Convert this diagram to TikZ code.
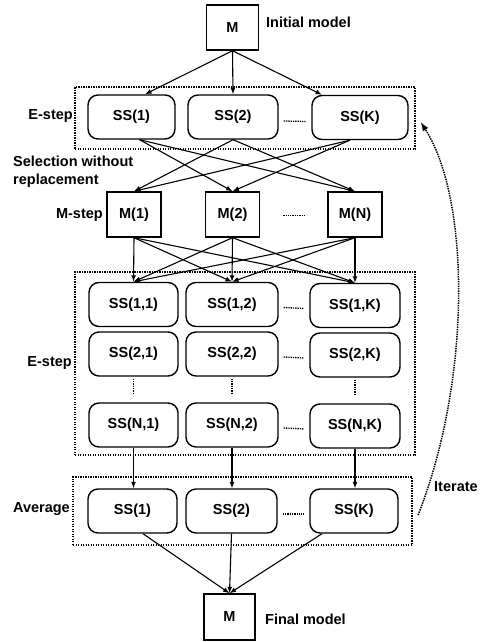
\documentclass[tikz,border=0pt]{standalone}
\usepackage{fontspec}
\setmainfont{Liberation Sans}
\usetikzlibrary{arrows.meta,calc}
\begin{document}
\begin{tikzpicture}[x=1pt,y=-1pt,
  every node/.style={font=\fontsize{14.5}{18}\selectfont\bfseries, inner sep=0pt},
  sq/.style={draw, line width=1.4pt, minimum width=52pt, minimum height=45pt},
  rbox/.style={draw, line width=1.4pt, rounded corners=10pt, minimum height=44pt},
  frame/.style={draw, line width=1.3pt, dash pattern=on 1.3pt off 1.2pt},
  arr/.style={-{Latex[length=6.5pt,width=5pt]}, line width=1.1pt},
  dotline/.style={line width=1.3pt, dash pattern=on 1.3pt off 1pt},
  iter/.style={-{Latex[length=9pt,width=6.5pt]}, line width=1.5pt, dash pattern=on 1.4pt off 1pt}
]
\useasboundingbox (0,0) rectangle (484,642);

% initial model
\node[sq] (m0) at (232.5,27.5) {M};
\node[anchor=west] (tinit) at (266,22) {Initial model};

% first E-step
\node[frame, minimum width=340pt, minimum height=62pt] (ef) at (245,118) {};
\node[rbox, minimum width=87pt] (e1) at (131.5,117) {SS(1)};
\node[rbox, minimum width=90pt] (e2) at (233,117) {SS(2)};
\node[rbox, minimum width=96pt] (ek) at (360,117.5) {SS(K)};
\node[anchor=east] (le1) at (73,116) {E-step};
\draw[dotline] ($(e2.east)+(5,4)$) -- ($(ek.west)+(-5,4)$);

\node[anchor=west, align=left] (lsel) at (13,172) {Selection without\\replacement};

% M-step
\node[sq, minimum width=54pt] (m1) at (134,214.5) {M(1)};
\node[sq, minimum width=54pt] (m2) at (232.5,214.5) {M(2)};
\node[sq, minimum width=54pt] (mn) at (355,214.5) {M(N)};
\node[anchor=east] (lm) at (103,215) {M-step};
\draw[dotline] ($(m2.east)+(23,1)$) -- ($(mn.west)+(-23,1)$);

% second E-step
\node[frame, minimum width=340pt, minimum height=183pt] (gf) at (245,363.5) {};
\node[rbox, minimum width=89pt] (g11) at (133.5,304.5) {SS(1,1)};
\node[rbox, minimum width=92pt] (g12) at (232,304.5) {SS(1,2)};
\node[rbox, minimum width=90pt] (g1k) at (355,305.5) {SS(1,K)};
\node[rbox, minimum width=89pt] (g21) at (133.5,354) {SS(2,1)};
\node[rbox, minimum width=92pt] (g22) at (232,354) {SS(2,2)};
\node[rbox, minimum width=90pt] (g2k) at (355,355) {SS(2,K)};
\node[rbox, minimum width=89pt] (gn1) at (133.5,425) {SS(N,1)};
\node[rbox, minimum width=92pt] (gn2) at (232,425) {SS(N,2)};
\node[rbox, minimum width=90pt] (gnk) at (355,426) {SS(N,K)};
\node[anchor=east] (le2) at (72,363) {E-step};
\foreach \a/\b in {g12/g1k, g22/g2k, gn2/gnk}
  \draw[dotline] ($(\a.east)+(5,3)$) -- ($(\b.west)+(-5,3)$);
\foreach \a/\b in {g21/gn1, g22/gn2, g2k/gnk}
  \draw[dotline] ($(\a.south)+(0,2)$) -- ($(\b.north)+(0,-8)$);

% average
\node[frame, minimum width=339pt, minimum height=68pt] (af) at (242.5,511) {};
\node[rbox, minimum width=89pt] (a1) at (132.5,511) {SS(1)};
\node[rbox, minimum width=91pt] (a2) at (231.5,511) {SS(2)};
\node[rbox, minimum width=88pt] (ak) at (354,511) {SS(K)};
\node[anchor=east] (la) at (70,509) {Average};
\draw[dotline] ($(a2.east)+(5,3)$) -- ($(ak.west)+(-5,3)$);

% final model
\node[sq, minimum width=51pt, minimum height=46pt] (mf) at (229.5,617) {M};
\node[anchor=west] (tfin) at (265,619) {Final model};

\node[anchor=west] (lit) at (434,487) {Iterate};

% arrows: initial -> E
\draw[arr] (m0.south) -- ($(e1.north)+(13.5,0)$);
\draw[arr] (m0.south) -- (e2.north);
\draw[arr] (m0.south) -- ($(ek.north)+(-38,0)$);

% E -> M
\coordinate (s1) at ($(e1.south)+(8,0)$);
\coordinate (s2) at (e2.south);
\coordinate (sk) at ($(ek.south)+(-10,0)$);
\draw[arr] (s1) -- (m2.north);
\draw[arr] (s1) -- (mn.north);
\draw[arr] (s2) -- (m1.north);
\draw[arr] (s2) -- (mn.north);
\draw[arr] (sk) -- (m1.north);
\draw[arr] (sk) -- (m2.north);

% M -> grid row 1
\foreach \s in {m1,m2,mn}
  \foreach \t in {g11,g12,g1k}
    \draw[arr] (\s.south) -- (\t.north);

% grid row N -> average
\draw[arr] (gn1.south) -- (gn1.south |- a1.north);
\draw[arr] (gn2.south) -- (gn2.south |- a2.north);
\draw[arr] (gnk.south) -- (gnk.south |- ak.north);

% average -> final
\draw[arr] ($(a1.south)+(10.5,0)$) -- (mf.north);
\draw[arr] (a2.south) -- (mf.north);
\draw[arr] ($(ak.south)+(-32,0)$) -- (mf.north);

% iterate
\draw[iter] ($(af.east)+(5.5,4)$) .. controls ($(af.east)+(58.5,-131)$) and ($(ef.east)+(55,82)$) .. ($(ef.east)+(5,4)$);
\end{tikzpicture}
\end{document}
